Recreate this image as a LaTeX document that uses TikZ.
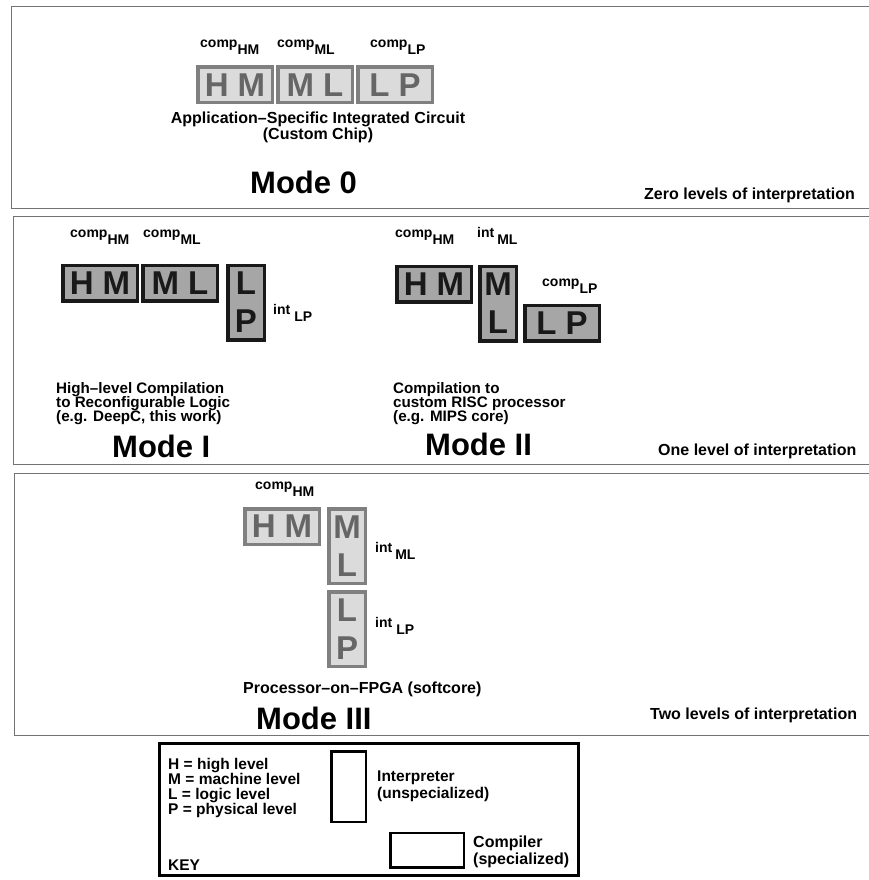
\documentclass[tikz,border=0pt]{standalone}
\usepackage{fontspec}
\setmainfont{Liberation Sans}
\usetikzlibrary{positioning}

% label with a lowered level pair, e.g. comp_HM
\newcommand{\levelsub}[3][0pt]{#2\hspace{#1}\raisebox{-7pt}{#3}}
% tight leading for the captions
\newcommand{\tightlead}{\lineskiplimit=-100pt\relax\lineskip=0pt\relax}

\begin{document}
\begin{tikzpicture}[x=1pt, y=-1pt,
    panel/.style={draw=black!55, line width=1pt},
    lvlbox/.style={inner sep=0pt, line width=3.5pt, minimum width=74.5pt,
                   minimum height=35.5pt, align=center,
                   font=\bfseries\fontsize{33}{38}\selectfont},
    tallbox/.style={lvlbox, minimum width=36.5pt, minimum height=74.5pt},
    pale/.style={fill=black!14, draw=black!50, text=black!60},
    dark/.style={fill=black!35, draw=black!90, text=black!90},
    lvl/.style={inner sep=0pt, anchor=base west,
                font=\bfseries\fontsize{14}{16}\selectfont},
    caption/.style={inner sep=0pt, align=left,
                    font=\tightlead\bfseries\fontsize{15.2}{14.2}\selectfont},
    modename/.style={inner sep=0pt, anchor=base west,
                     font=\bfseries\fontsize{31}{34}\selectfont},
    levels/.style={inner sep=0pt, anchor=base west,
                   font=\bfseries\fontsize{16}{18}\selectfont},
    keytext/.style={inner sep=0pt, align=left, anchor=north west,
                    font=\bfseries\fontsize{15.5}{15}\selectfont}
  ]
  \useasboundingbox (0,0) rectangle (868,880);

  % panels
  \draw[panel] (11,7) rectangle (880,208);
  \draw[panel] (13,216) rectangle (880,464);
  \draw[panel] (14,473) rectangle (880,735);

  % Mode 0
  \node[lvlbox, pale] (hm0) at (235,85) {H M};
  \node[lvlbox, pale, right=2pt of hm0] (ml0) {M L};
  \node[lvlbox, pale, right=2pt of ml0] (lp0) {L P};
  \node[lvl] (chm0) at (200,48) {\levelsub{comp}{HM}};
  \node[lvl] (cml0) at (277,48) {\levelsub{comp}{ML}};
  \node[lvl] (clp0) at (370,48) {\levelsub{comp}{LP}};
  \node[caption, align=center, anchor=north,
        font=\tightlead\bfseries\fontsize{16}{16.5}\selectfont]
    (asic) at (318,111.5) {Application--Specific Integrated Circuit\\(Custom Chip)};
  \node[modename] (mode0) at (250,193) {Mode 0};
  \node[levels] (zero) at (644,199) {Zero levels of interpretation};

  % Mode I
  \node[lvlbox, dark] (hm1) at (100,283) {H M};
  \node[lvlbox, dark, right=2pt of hm1] (ml1) {M L};
  \node[tallbox, dark, right=7pt of ml1.north east, anchor=north west] (lp1) {L\\P};
  \node[lvl] (chm1) at (70,237) {\levelsub{comp}{HM}};
  \node[lvl] (cml1) at (143,237) {\levelsub{comp}{ML}};
  \node[lvl] (ilp1) at (273,314) {\levelsub[4pt]{int}{LP}};
  \node[caption, anchor=north west] (deepc) at (56,382)
    {High--level Compilation\\to Reconfigurable Logic\\(e.g. DeepC, this work)};
  \node[modename] (mode1) at (112,457) {Mode I};

  % Mode II
  \node[lvlbox, dark] (hm2) at (434,284) {H M};
  \node[tallbox, dark, right=5pt of hm2.north east, anchor=north west] (ml2) {M\\L};
  \node[lvlbox, dark, right=5pt of ml2.south east, anchor=south west] (lp2) {L P};
  \node[lvl] (chm2) at (395,237) {\levelsub{comp}{HM}};
  \node[lvl] (iml2) at (477,237) {\levelsub[3pt]{int}{ML}};
  \node[lvl] (clp2) at (542,286) {\levelsub{comp}{LP}};
  \node[caption, anchor=north west] (risc) at (393,382)
    {Compilation to\\custom RISC processor\\(e.g. MIPS core)};
  \node[modename] (mode2) at (425,455) {Mode II};
  \node[levels] (one) at (658,455) {One level of interpretation};

  % Mode III
  \node[lvlbox, pale] (hm3) at (282,526.5) {H M};
  \node[tallbox, pale, right=6pt of hm3.north east, anchor=north west] (ml3) {M\\L};
  \node[tallbox, pale, below=5pt of ml3] (lp3) {L\\P};
  \node[lvl] (chm3) at (255,489) {\levelsub{comp}{HM}};
  \node[lvl] (iml3) at (375,552) {\levelsub[3pt]{int}{ML}};
  \node[lvl] (ilp3) at (375,627) {\levelsub[4pt]{int}{LP}};
  \node[caption, anchor=base west, font=\bfseries\fontsize{16}{18}\selectfont]
    (fpga) at (243,693) {Processor--on--FPGA (softcore)};
  \node[modename] (mode3) at (256,729) {Mode III};
  \node[levels] (two) at (650,719) {Two levels of interpretation};

  % key
  \node[draw, line width=3pt, minimum width=419pt, minimum height=132pt] (key) at (369,809.5) {};
  \node[draw, line width=2.5pt, minimum width=34.5pt, minimum height=70.5pt] (interp) at (348.5,786.5) {};
  \node[draw, line width=2.5pt, minimum width=73.5pt, minimum height=34.5pt] (compiler) at (427,850) {};
  \node[keytext] (legend) at (168,758.5)
    {H = high level\\M = machine level\\L = logic level\\P = physical level};
  \node[keytext, font=\bfseries\fontsize{15.5}{17}\selectfont] (interptxt) at (377,770.5) {Interpreter\\(unspecialized)};
  \node[keytext, font=\bfseries\fontsize{16}{17}\selectfont] (comptxt) at (473,836) {Compiler\\(specialized)};
  \node[keytext, anchor=base west] (keyname) at (168,870) {KEY};
\end{tikzpicture}
\end{document}
